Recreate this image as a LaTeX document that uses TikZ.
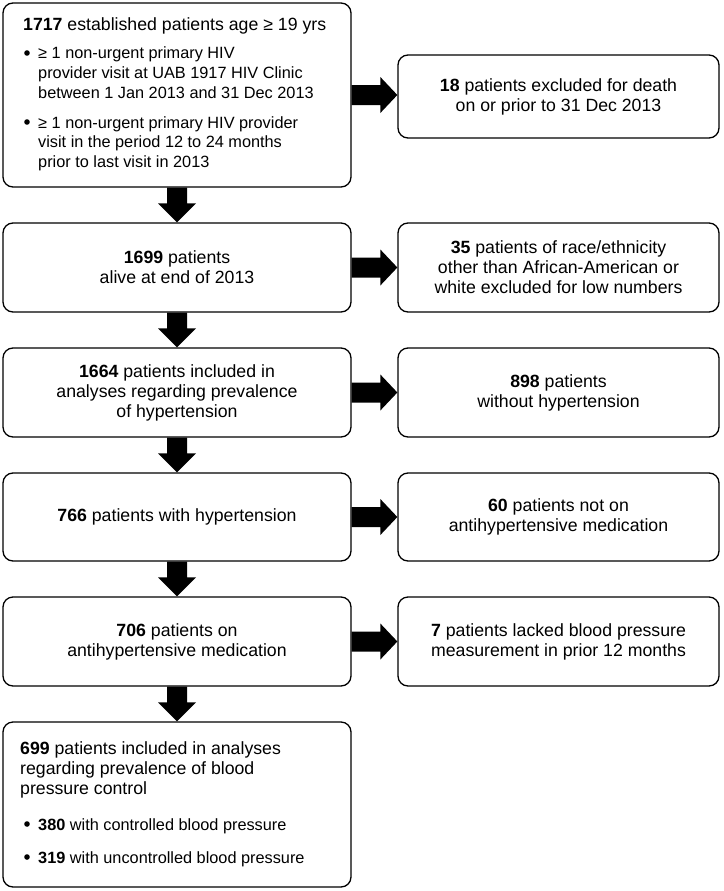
\documentclass[tikz,border=0pt]{standalone}
\usepackage{fontspec}
\setmainfont{Liberation Sans}
\usetikzlibrary{calc}
\newcommand{\bxfont}{\fontsize{17.7pt}{20pt}\selectfont}
\newcommand{\blfont}{\fontsize{16.3pt}{19.5pt}\selectfont}
\tikzset{
  box/.style={draw=black, line width=1.3pt, rounded corners=10pt, inner sep=0pt, align=center, font=\bxfont},
  leftbox/.style={box, minimum width=348pt},
  rightbox/.style={box, minimum width=321pt},
  blockarrow/.style={fill=black},
  linetext/.style={anchor=base west, inner sep=0pt, font=\bxfont},
  bullettext/.style={anchor=base west, inner sep=0pt, font=\blfont},
  bulletdot/.style={fill=black}
}
\newcommand{\dnarrow}[2]{%
  \fill[blockarrow] ($(#1.south)+(-10pt,0pt)$) -- ($(#1.south)+(10pt,0pt)$)
    -- ($(#2.north)+(10pt,19pt)$) -- ($(#2.north)+(19pt,19pt)$) -- (#2.north)
    -- ($(#2.north)+(-19pt,19pt)$) -- ($(#2.north)+(-10pt,19pt)$) -- cycle;}
\newcommand{\rtarrow}[2]{%
  \path (#2.west |- #1.east) coordinate (tipxy);
  \fill[blockarrow] ($(#1.east)+(0pt,10pt)$) -- ($(#1.east)+(0pt,-10pt)$)
    -- ($(tipxy)+(-17pt,-10pt)$) -- ($(tipxy)+(-17pt,-18pt)$) -- (tipxy)
    -- ($(tipxy)+(-17pt,18pt)$) -- ($(tipxy)+(-17pt,10pt)$) -- cycle;}
\begin{document}
\begin{tikzpicture}[x=1pt,y=-1pt]
\useasboundingbox (0,0) rectangle (723,891);
\fill[white] (0,0) rectangle (723,891);

% left column
\node[leftbox, minimum height=184pt] (b1) at (177,95) {};
\node[leftbox, minimum height=89pt] (b2) at (177,267.5) {\textbf{1699} patients\\alive at end of 2013};
\node[leftbox, minimum height=89pt] (b3) at (177,392.5) {\textbf{1664} patients included in\\analyses regarding prevalence\\of hypertension};
\node[leftbox, minimum height=88pt] (b4) at (177,517) {\textbf{766} patients with hypertension};
\node[leftbox, minimum height=89pt] (b5) at (177,641.5) {\textbf{706} patients on\\antihypertensive medication};
\node[leftbox, minimum height=165pt] (b6) at (177,804.5) {};

% right column
\node[rightbox, minimum height=83pt] (r1) at (558.5,96.5) {\textbf{18} patients excluded for death\\on or prior to 31 Dec 2013};
\node[rightbox, minimum height=89pt] (r2) at (558.5,267.5) {\textbf{35} patients of race/ethnicity\\other than African-American or\\white excluded for low numbers};
\node[rightbox, minimum height=89pt] (r3) at (558.5,392.5) {\textbf{898} patients\\without hypertension};
\node[rightbox, minimum height=88pt] (r4) at (558.5,517) {\textbf{60} patients not on\\antihypertensive medication};
\node[rightbox, minimum height=89pt] (r5) at (558.5,641.5) {\textbf{7} patients lacked blood pressure\\measurement in prior 12 months};

% box 1 text
\node[linetext] (b1t) at (23,31) {\textbf{1717} established patients age ≥ 19 yrs};
\fill[bulletdot] (27,53) circle (2.8pt);
\node[bullettext] (b1a1) at (38,59) {≥ 1 non-urgent primary HIV};
\node[bullettext] (b1a2) at (38,78.5) {provider visit at UAB 1917 HIV Clinic};
\node[bullettext] (b1a3) at (38,98) {between 1 Jan 2013 and 31 Dec 2013};
\fill[bulletdot] (27,122) circle (2.8pt);
\node[bullettext] (b1b1) at (38,128) {≥ 1 non-urgent primary HIV provider};
\node[bullettext] (b1b2) at (38,147.5) {visit in the period 12 to 24 months};
\node[bullettext] (b1b3) at (38,167) {prior to last visit in 2013};

% box 6 text
\node[linetext] (b6t1) at (20,754) {\textbf{699} patients included in analyses};
\node[linetext] (b6t2) at (20,774) {regarding prevalence of blood};
\node[linetext] (b6t3) at (20,794) {pressure control};
\fill[bulletdot] (27,824) circle (2.8pt);
\node[bullettext] (b6a) at (38,830) {\textbf{380} with controlled blood pressure};
\fill[bulletdot] (27,857) circle (2.8pt);
\node[bullettext] (b6b) at (38,863) {\textbf{319} with uncontrolled blood pressure};

% arrows
\dnarrow{b1}{b2}
\dnarrow{b2}{b3}
\dnarrow{b3}{b4}
\dnarrow{b4}{b5}
\dnarrow{b5}{b6}
\rtarrow{b1}{r1}
\rtarrow{b2}{r2}
\rtarrow{b3}{r3}
\rtarrow{b4}{r4}
\rtarrow{b5}{r5}
\end{tikzpicture}
\end{document}
